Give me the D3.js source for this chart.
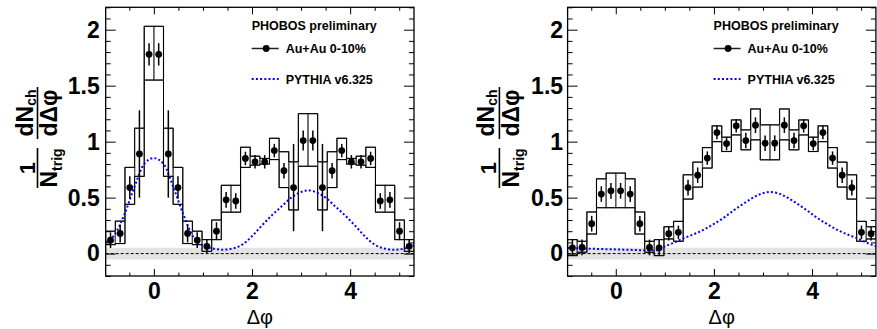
<!DOCTYPE html>
<html><head><meta charset="utf-8">
<script src="https://cdn.jsdelivr.net/npm/d3@7"></script>
<style>body{margin:0;background:#fff}svg{display:block}</style>
</head><body>
<svg id="c" width="877" height="329"></svg>
<script>
// ---- data ----
const binCenters = [-0.8836,-0.6872,-0.4909,-0.2945,-0.0982,0.0982,0.2945,0.4909,0.6872,0.8836,
  1.0799,1.2763,1.4726,1.6690,1.8653,2.0617,2.2580,2.4544,2.6507,2.8471,3.0434,3.2398,
  3.4361,3.6325,3.8288,4.0252,4.2215,4.4179,4.6142,4.8106,5.0069,5.2033];
const xRange = [-0.9817, 5.3014];
const xTickMajor = [0, 2, 4];
const xTickLabels = ["0", "2", "4"];
const yTickMajor = [0, 0.5, 1, 1.5, 2];
const yTickLabels = ["0", "0.5", "1", "1.5", "2"];

const leftValues = [0.12,0.18,0.59,0.89,1.78,1.78,0.89,0.59,0.18,0.12,
  0.065,0.20,0.48,0.47,0.85,0.82,0.82,0.92,0.74,0.59,1.01,1.01,0.59,0.74,0.92,0.82,0.82,0.85,0.47,0.48,0.20,0.065];
const leftStat = [0.07,0.08,0.10,0.39,0.10,0.10,0.39,0.10,0.08,0.07,
  0.065,0.08,0.07,0.07,0.06,0.06,0.06,0.06,0.07,0.39,0.09,0.09,0.39,0.07,0.06,0.06,0.06,0.06,0.07,0.07,0.08,0.065];
const leftSysHi = [0.20,0.29,0.77,1.12,2.03,2.03,1.12,0.77,0.29,0.20,
  0.125,0.30,0.61,0.61,0.95,0.87,0.85,1.03,0.91,0.82,1.25,1.25,0.82,0.91,1.03,0.85,0.87,0.95,0.61,0.61,0.30,0.125];
const leftSysLo = [0.08,0.09,0.44,0.69,1.55,1.55,0.69,0.44,0.09,0.08,
  0.02,0.125,0.37,0.37,0.77,0.79,0.80,0.84,0.59,0.39,0.78,0.78,0.39,0.59,0.84,0.80,0.79,0.77,0.37,0.37,0.125,0.02];

const rightValues = [0.052,0.055,0.267,0.532,0.561,0.561,0.532,0.267,0.055,0.052,
  0.178,0.19,0.59,0.70,0.853,1.081,0.983,1.141,1.01,1.147,0.986,0.986,1.147,1.01,1.141,0.983,1.081,0.853,0.70,0.59,0.19,0.178];
const rightStat = [0.07,0.07,0.07,0.07,0.07,0.07,0.07,0.07,0.07,0.07,
  0.06,0.06,0.07,0.07,0.06,0.06,0.06,0.06,0.07,0.07,0.07,0.07,0.07,0.07,0.06,0.06,0.06,0.06,0.07,0.07,0.06,0.06];
const rightSysHi = [0.125,0.11,0.372,0.668,0.719,0.719,0.668,0.372,0.11,0.125,
  0.24,0.288,0.704,0.817,0.947,1.141,1.04,1.194,1.105,1.292,1.15,1.15,1.292,1.105,1.194,1.04,1.141,0.947,0.817,0.704,0.288,0.24];
const rightSysLo = [-0.018,0.012,0.175,0.41,0.41,0.41,0.41,0.175,0.012,-0.018,
  0.131,0.11,0.487,0.594,0.764,1.0,0.912,1.06,0.927,1.016,0.838,0.838,1.016,0.927,1.06,0.912,1.0,0.764,0.594,0.487,0.11,0.131];

const leftPythiaX = [-0.98,-0.8,-0.6,-0.4,-0.2,0,0.2,0.4,0.6,0.8,1.0,1.2,1.4,1.6,1.8,2.0,2.2,2.4,2.6,2.8,3.0,3.14,3.3,3.5,3.7,3.9,4.1,4.3,4.5,4.7,4.9,5.1,5.3];
const leftPythiaY = [0.10,0.17,0.35,0.59,0.80,0.853,0.80,0.59,0.35,0.15,0.075,0.045,0.035,0.045,0.08,0.155,0.25,0.34,0.42,0.50,0.55,0.565,0.55,0.50,0.42,0.34,0.25,0.155,0.08,0.045,0.035,0.045,0.075];
const rightPythiaX = [-0.98,-0.6,-0.2,0.2,0.6,0.85,1.0,1.2,1.4,1.6,1.8,2.0,2.2,2.4,2.6,2.8,3.0,3.14,3.3,3.5,3.7,3.9,4.1,4.3,4.5,4.7,4.9,5.1,5.3];
const rightPythiaY = [0.05,0.045,0.04,0.035,0.03,0.03,0.065,0.10,0.14,0.175,0.215,0.265,0.32,0.385,0.445,0.50,0.54,0.55,0.54,0.50,0.445,0.385,0.32,0.265,0.215,0.175,0.14,0.10,0.065];

const legendTitle = "PHOBOS preliminary";
const legendData = "Au+Au 0-10%";
const legendModel = "PYTHIA v6.325";
const xTitle = "\u0394\u03c6";

// ---- drawing ----
const FONT = "'Liberation Sans', Arial, Helvetica, sans-serif";
const svg = d3.select("#c");

function drawPanel(id, f, values, stat, hi, lo, px, py) {
  const x = d3.scaleLinear().domain(xRange).range([f.x0, f.x1]);
  const y = d3.scaleLinear().domain([-0.2, 2.2]).range([f.y1, f.y0]);
  const g = svg.append("g");
  g.append("clipPath").attr("id", "clip" + id).append("rect")
    .attr("x", f.x0).attr("y", f.y0).attr("width", f.x1 - f.x0).attr("height", f.y1 - f.y0);
  const pg = g.append("g").attr("clip-path", `url(#clip${id})`);

  // grey normalization band and zero line
  pg.append("rect").attr("x", f.x0).attr("width", f.x1 - f.x0)
    .attr("y", y(0.052)).attr("height", y(-0.052) - y(0.052)).attr("fill", "#e3e3e3");
  pg.append("line").attr("x1", f.x0).attr("x2", f.x1).attr("y1", y(0)).attr("y2", y(0))
    .attr("stroke", "#000").attr("stroke-width", 1).attr("stroke-dasharray", "3,2");

  const hw = (binCenters[1] - binCenters[0]) / 2;
  // systematic boxes
  pg.append("g").selectAll("rect").data(binCenters).join("rect")
    .attr("x", c => x(c - hw)).attr("width", c => x(c + hw) - x(c - hw))
    .attr("y", (c, i) => y(hi[i])).attr("height", (c, i) => y(lo[i]) - y(hi[i]))
    .attr("fill", "none").attr("stroke", "#555").attr("stroke-width", 1.2);
  // upper / lower step histograms
  const step = d3.line().x(d => x(d[0])).y(d => y(d[1])).curve(d3.curveStepAfter);
  [hi, lo].forEach(arr => {
    const pts = binCenters.map((c, i) => [c - hw, arr[i]]);
    pts.push([binCenters[binCenters.length - 1] + hw, arr[arr.length - 1]]);
    pg.append("path").attr("d", step(pts)).attr("fill", "none")
      .attr("stroke", "#000").attr("stroke-width", 1);
  });

  // PYTHIA curve
  const line = d3.line().x(d => x(d[0])).y(d => y(d[1])).curve(d3.curveMonotoneX);
  pg.append("path").attr("d", line(px.map((v, i) => [v, py[i]])))
    .attr("fill", "none").attr("stroke", "#0000ff").attr("stroke-width", 2)
    .attr("stroke-dasharray", "2,2.2");

  // stat error bars + markers
  g.append("g").selectAll("line").data(binCenters).join("line")
    .attr("x1", c => x(c)).attr("x2", c => x(c))
    .attr("y1", (c, i) => y(values[i] - stat[i])).attr("y2", (c, i) => y(values[i] + stat[i]))
    .attr("stroke", "#000").attr("stroke-width", 1.5);
  g.append("g").selectAll("circle").data(binCenters).join("circle")
    .attr("cx", c => x(c)).attr("cy", (c, i) => y(values[i])).attr("r", 3.4).attr("fill", "#000");

  // axes
  const yMinor = y.ticks(24).filter(t => !yTickMajor.some(m => Math.abs(m - t) < 1e-6));
  const xMinor = x.ticks(12).filter(t => !xTickMajor.some(m => Math.abs(m - t) < 1e-6));
  function style(sel) { sel.select(".domain").remove(); sel.selectAll("line").attr("stroke", "#000").attr("stroke-width", 1); }
  const yl = g.append("g").attr("transform", `translate(${f.x0},0)`)
    .call(d3.axisLeft(y).tickValues(yTickMajor).tickSize(-10).tickPadding(f.lp)
      .tickFormat((d, i) => yTickLabels[i])).call(style);
  yl.selectAll("text").attr("font-family", FONT).attr("font-weight", "bold").attr("font-size", 23).attr("fill", "#000");
  g.append("g").attr("transform", `translate(${f.x0},0)`)
    .call(d3.axisLeft(y).tickValues(yMinor).tickSize(-5).tickFormat("")).call(style);
  g.append("g").attr("transform", `translate(${f.x1},0)`)
    .call(d3.axisRight(y).tickValues(yTickMajor).tickSize(-10).tickFormat("")).call(style);
  g.append("g").attr("transform", `translate(${f.x1},0)`)
    .call(d3.axisRight(y).tickValues(yMinor).tickSize(-5).tickFormat("")).call(style);
  const xl = g.append("g").attr("transform", `translate(0,${f.y1})`)
    .call(d3.axisBottom(x).tickValues(xTickMajor).tickSize(-7).tickPadding(7)
      .tickFormat((d, i) => xTickLabels[i])).call(style);
  xl.selectAll("text").attr("font-family", FONT).attr("font-weight", "bold").attr("font-size", 23).attr("fill", "#000");
  g.append("g").attr("transform", `translate(0,${f.y1})`)
    .call(d3.axisBottom(x).tickValues(xMinor).tickSize(-3.5).tickFormat("")).call(style);
  g.append("g").attr("transform", `translate(0,${f.y0})`)
    .call(d3.axisTop(x).tickValues(xTickMajor).tickSize(-7).tickFormat("")).call(style);
  g.append("g").attr("transform", `translate(0,${f.y0})`)
    .call(d3.axisTop(x).tickValues(xMinor).tickSize(-3.5).tickFormat("")).call(style);

  // frame
  g.append("rect").attr("x", f.x0).attr("y", f.y0).attr("width", f.x1 - f.x0).attr("height", f.y1 - f.y0)
    .attr("fill", "none").attr("stroke", "#000").attr("stroke-width", 1.3);

  // x title
  g.append("text").attr("x", (f.x0 + f.x1) / 2).attr("y", 323.5).attr("text-anchor", "middle")
    .attr("font-family", FONT).attr("font-size", 20).text(xTitle);

  // y title (rotated fractions)
  const t = g.append("g").attr("transform", `translate(${f.x0 - 68.2},0) rotate(-90)`)
    .attr("font-family", FONT).attr("font-weight", "bold").attr("fill", "#000");
  t.append("line").attr("x1", -188).attr("x2", -148).attr("y1", 0).attr("y2", 0).attr("stroke", "#000").attr("stroke-width", 1.6);
  t.append("text").attr("x", -168).attr("y", -3).attr("text-anchor", "middle").attr("font-size", 22).text("1");
  const den1 = t.append("text").attr("x", -168).attr("y", 19.5).attr("text-anchor", "middle").attr("font-size", 23);
  den1.append("tspan").text("N");
  den1.append("tspan").attr("font-size", 14).attr("dy", 5).text("trig");
  t.append("line").attr("x1", -139).attr("x2", -87).attr("y1", 0).attr("y2", 0).attr("stroke", "#000").attr("stroke-width", 1.6);
  const num2 = t.append("text").attr("x", -113).attr("y", -5).attr("text-anchor", "middle").attr("font-size", 23);
  num2.append("tspan").text("dN");
  num2.append("tspan").attr("font-size", 14).attr("dy", 3).text("ch");
  t.append("text").attr("x", -113).attr("y", 19.5).attr("text-anchor", "middle").attr("font-size", 23).text("d\u0394\u03c6");

  // legend
  const lx = f.x0 + 146;
  const lg = g.append("g").attr("font-family", FONT).attr("font-weight", "bold").attr("font-size", 12.5).attr("fill", "#000");
  lg.append("text").attr("x", lx).attr("y", 30).text(legendTitle);
  lg.append("line").attr("x1", lx).attr("x2", lx + 27).attr("y1", 48.5).attr("y2", 48.5).attr("stroke", "#222").attr("stroke-width", 1.5);
  lg.append("circle").attr("cx", lx + 14.5).attr("cy", 48.5).attr("r", 3.4).attr("fill", "#000");
  lg.append("text").attr("x", lx + 34).attr("y", 53).text(legendData);
  lg.append("line").attr("x1", lx).attr("x2", lx + 27).attr("y1", 79).attr("y2", 79).attr("stroke", "#0000ff").attr("stroke-width", 2).attr("stroke-dasharray", "2,2.2");
  lg.append("text").attr("x", lx + 34).attr("y", 83.5).text(legendModel);
}

drawPanel("L", {x0: 105.7, x1: 414, y0: 7.3, y1: 276, lp: 6}, leftValues, leftStat, leftSysHi, leftSysLo, leftPythiaX, leftPythiaY);
drawPanel("R", {x0: 567.6, x1: 875.9, y0: 7.3, y1: 276, lp: 4.5}, rightValues, rightStat, rightSysHi, rightSysLo, rightPythiaX, rightPythiaY);
</script>
</body></html>
